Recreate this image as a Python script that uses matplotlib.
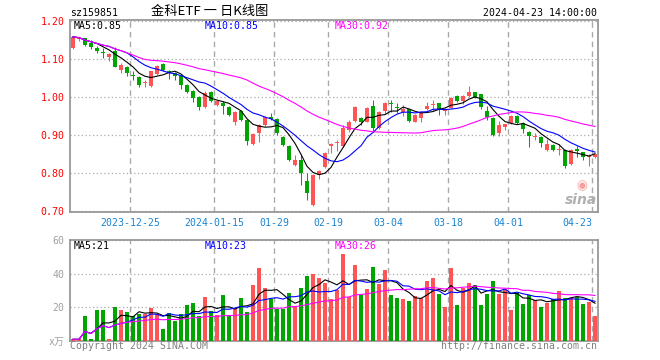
import numpy as np
import pandas as pd
import matplotlib
matplotlib.use('Agg')
import matplotlib.pyplot as plt

plt.rcParams['font.family'] = ['DejaVu Sans Mono', 'Noto Sans CJK SC']

## datos (88 sesiones, 2023-12-11 .. 2024-04-23)
opens = [1.129, 1.153, 1.155, 1.142, 1.129, 1.118, 1.105, 1.123, 1.072, 1.081,
         1.057, 1.053, 1.038, 1.030, 1.060, 1.088, 1.070, 1.063, 1.056, 1.032,
         1.017, 1.002, 0.974, 1.015, 0.980, 0.986, 0.975, 0.936, 0.965, 0.940,
         0.877, 0.907, 0.927, 0.948, 0.943, 0.895, 0.872, 0.822, 0.835, 0.780,
         0.717, 0.795, 0.817, 0.872, 0.880, 0.872, 0.914, 0.937, 0.945, 0.936,
         0.977, 0.918, 0.965, 0.986, 0.974, 0.962, 0.968, 0.936, 0.945, 0.968,
         0.980, 0.984, 0.965, 0.973, 1.003, 0.989, 1.004, 1.013, 1.008, 0.964,
         0.945, 0.905, 0.923, 0.932, 0.951, 0.932, 0.910, 0.895, 0.895, 0.861,
         0.874, 0.861, 0.861, 0.824, 0.862, 0.855, 0.842, 0.843]
highs = [1.161, 1.159, 1.157, 1.150, 1.135, 1.129, 1.116, 1.133, 1.091, 1.083,
         1.070, 1.055, 1.045, 1.070, 1.086, 1.089, 1.073, 1.066, 1.058, 1.034,
         1.019, 1.004, 1.017, 1.017, 0.994, 0.989, 0.977, 0.964, 0.967, 0.942,
         0.906, 0.930, 0.951, 0.960, 0.945, 0.897, 0.874, 0.848, 0.852, 0.800,
         0.797, 0.810, 0.855, 0.879, 0.887, 0.927, 0.940, 0.977, 0.949, 0.974,
         0.993, 0.964, 0.988, 0.993, 0.984, 0.979, 0.970, 0.955, 0.964, 0.988,
         0.993, 0.986, 0.972, 1.001, 1.005, 1.005, 1.030, 1.015, 1.010, 0.977,
         0.947, 0.937, 0.931, 0.953, 0.953, 0.934, 0.912, 0.905, 0.897, 0.890,
         0.876, 0.877, 0.863, 0.863, 0.872, 0.857, 0.852, 0.852]
lows = [1.127, 1.149, 1.135, 1.127, 1.116, 1.103, 1.096, 1.079, 1.063, 1.056,
        1.045, 1.026, 1.026, 1.026, 1.058, 1.070, 1.049, 1.045, 1.023, 1.012,
        0.988, 0.967, 0.972, 0.987, 0.977, 0.956, 0.951, 0.928, 0.938, 0.874,
        0.875, 0.883, 0.925, 0.940, 0.901, 0.872, 0.833, 0.819, 0.769, 0.730,
        0.714, 0.786, 0.815, 0.853, 0.859, 0.870, 0.910, 0.935, 0.927, 0.934,
        0.910, 0.916, 0.955, 0.962, 0.958, 0.950, 0.936, 0.934, 0.936, 0.966,
        0.965, 0.953, 0.953, 0.971, 0.987, 0.982, 1.002, 0.997, 0.969, 0.940,
        0.899, 0.898, 0.914, 0.930, 0.930, 0.905, 0.870, 0.887, 0.869, 0.859,
        0.859, 0.848, 0.813, 0.822, 0.842, 0.834, 0.818, 0.841]
closes = [1.159, 1.155, 1.138, 1.133, 1.123, 1.116, 1.114, 1.081, 1.085, 1.065,
          1.055, 1.032, 1.040, 1.068, 1.083, 1.072, 1.063, 1.057, 1.032, 1.014,
          0.999, 0.974, 1.012, 0.989, 0.990, 0.977, 0.953, 0.962, 0.940, 0.886,
          0.904, 0.928, 0.949, 0.944, 0.905, 0.875, 0.835, 0.835, 0.800, 0.747,
          0.795, 0.806, 0.853, 0.877, 0.883, 0.918, 0.936, 0.975, 0.936, 0.972,
          0.918, 0.962, 0.984, 0.983, 0.972, 0.970, 0.938, 0.953, 0.962, 0.977,
          0.983, 0.967, 0.970, 0.999, 0.989, 1.003, 1.015, 0.999, 0.975, 0.949,
          0.901, 0.927, 0.929, 0.951, 0.932, 0.916, 0.897, 0.897, 0.879, 0.877,
          0.861, 0.864, 0.819, 0.861, 0.860, 0.843, 0.844, 0.850]
# volumen en 万
volumes = [1.0, 1.0, 14.9, 1.0, 18.4, 18.4, 1.0, 20.2, 18.4, 17.2,
           14.9, 16.2, 16.0, 19.8, 16.2, 7.1, 16.6, 11.9, 16.0, 21.4,
           22.6, 14.9, 26.1, 17.6, 15.4, 27.3, 15.2, 19.4, 25.5, 17.2,
           33.3, 43.4, 31.5, 25.1, 19.2, 19.2, 28.5, 20.4, 31.5, 38.6,
           39.8, 37.2, 34.5, 25.0, 30.3, 51.9, 26.1, 45.1, 27.5, 31.1,
           44.0, 34.1, 42.4, 27.3, 25.5, 25.1, 23.8, 26.7, 25.3, 35.8,
           37.4, 28.1, 20.2, 43.4, 21.4, 31.7, 34.5, 33.3, 21.4, 27.9,
           35.6, 28.1, 31.1, 18.4, 28.3, 22.0, 27.3, 24.4, 20.2, 22.6,
           25.0, 29.7, 25.7, 25.5, 26.1, 22.2, 23.4, 15.0]

tick_idx = [10, 24, 34, 43, 53, 63, 73, 87]
tick_labels = ['2023-12-25', '2024-01-15', '01-29', '02-19', '03-04', '03-18', '04-01', '04-23']
price_ticks = [0.70, 0.80, 0.90, 1.00, 1.10, 1.20]
vol_ticks = [0, 20, 40, 60]
vol_tick_labels = ['x万', '20', '40', '60']
price_ma_text = ['MA5:0.85', 'MA10:0.85', 'MA30:0.92']
vol_ma_text = ['MA5:21', 'MA10:23', 'MA30:26']

RED = '#ff5555'
GREEN = '#00a500'
MA_COLORS = ['black', '#0000ff', '#ff00ff']
GRID = '#aaaaaa'

o = np.array(opens); h = np.array(highs); l = np.array(lows); c = np.array(closes)
v = np.array(volumes)
x = np.arange(len(c))
up = c >= o
cols = np.where(up, RED, GREEN)

W, H = 660, 360
def px(xp, yp):
    return xp / W, 1 - yp / H

fig = plt.figure(figsize=(6.6, 3.6), dpi=100)
ax = fig.add_axes([70 / W, 1 - 212 / H, 528 / W, 192 / H])
axv = fig.add_axes([70 / W, 1 - 341 / H, 528 / W, 101 / H])

mono = dict(family='DejaVu Sans Mono', fontsize=7.1)

## velas
ax.vlines(x, l, h, colors=cols, lw=0.75, zorder=3)
body = np.maximum(np.abs(c - o), 0.0027)
ax.bar(x, body, bottom=np.minimum(o, c), width=0.83, color=cols, lw=0, zorder=4)

s = pd.Series(c)
for win, col in zip([5, 10, 30], MA_COLORS):
    ax.plot(x, s.rolling(win, min_periods=1).mean(), color=col, lw=0.8, zorder=5)

## volumen
axv.bar(x, v, width=0.83, color=cols, lw=0, zorder=3)
sv = pd.Series(v)
for win, col in zip([5, 10, 30], MA_COLORS):
    axv.plot(x, sv.rolling(win, min_periods=1).mean(), color=col, lw=0.8, zorder=5)

for a in (ax, axv):
    a.set_xlim(-0.5, len(c) - 0.5)
    for sp in a.spines.values():
        sp.set_color('#999999')
        sp.set_linewidth(1.3)
    a.set_xticks(np.array(tick_idx) - 0.5)
    a.xaxis.grid(True, color=GRID, linestyle=(0, (4, 3)), lw=1.0)
    a.yaxis.grid(True, color=GRID, linestyle=(0, (1, 2)), lw=0.9)
    a.set_axisbelow(True)
    a.tick_params(length=0)

ax.set_ylim(0.6982, 1.2034)
ax.set_yticks(price_ticks)
ax.set_yticklabels(['%.2f' % t for t in price_ticks], color='red', **mono)
ax.tick_params(axis='y', pad=4)
ax.set_xticklabels(tick_labels, color='#1a84d0', **mono)
ax.tick_params(axis='x', pad=4)
ax.get_xticklabels()[-1].set_horizontalalignment('right')

axv.set_ylim(0, 60)
axv.set_yticks(vol_ticks)
axv.set_yticklabels(vol_tick_labels, color='#a0a0a0', fontsize=7.1)
axv.tick_params(axis='y', pad=4)
axv.set_xticklabels([])

## textos
fig.text(*px(70, 13), 'sz159851', ha='left', va='center', color='black', **mono)
fig.text(*px(210, 12), '金科ETF 一 日K线图', ha='center', va='center', color='black',
         family=['Noto Sans CJK SC', 'DejaVu Sans'], fontsize=9.5)
fig.text(*px(597, 13), '2024-04-23 14:00:00', ha='right', va='center', color='black', **mono)

for xt, txt, col in zip([74, 205, 335], price_ma_text, MA_COLORS):
    fig.text(*px(xt, 26), txt, ha='left', va='center', color=col, **mono)
for xt, txt, col in zip([74, 205, 335], vol_ma_text, MA_COLORS):
    fig.text(*px(xt, 246), txt, ha='left', va='center', color=col, **mono)

fig.text(*px(70, 346), 'Copyright 2024 SINA.COM', ha='left', va='center', color='#808080', **mono)
fig.text(*px(597, 346), 'http://finance.sina.com.cn', ha='right', va='center', color='#808080', **mono)
fig.text(*px(582, 186), '◉', ha='center', va='center', color='#f4a0a0',
         family='DejaVu Sans', fontsize=9)
fig.text(*px(581, 200), 'sina', ha='center', va='center', color='#b0b0b0',
         family='DejaVu Sans', fontsize=10, fontweight='bold', style='italic')

fig.savefig('out.png', dpi=100)
